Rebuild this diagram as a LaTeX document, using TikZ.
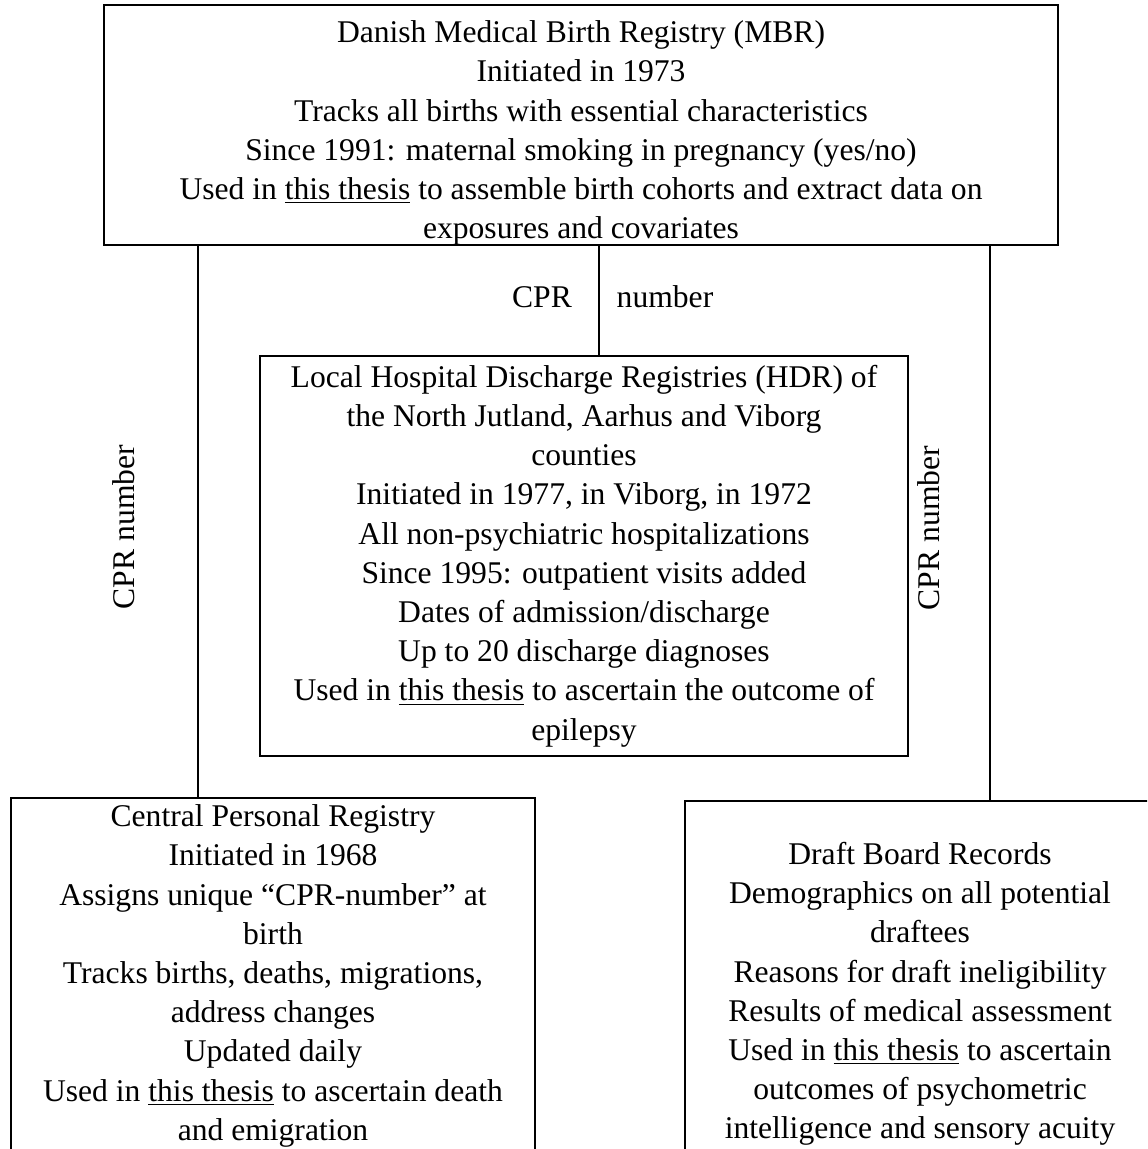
\documentclass[tikz,border=0pt]{standalone}
\usepackage{fontspec}
\setmainfont{Liberation Serif}
\begin{document}
\begin{tikzpicture}[x=0.5pt,y=-0.5pt,
  box/.style={draw, line width=1pt, align=center, inner sep=0pt,
    font=\fontsize{15.8}{19.6}\selectfont},
  lbl/.style={font=\fontsize{15.8}{19.6}\selectfont, inner sep=0pt},
  conn/.style={line width=1pt}]
\useasboundingbox (0,0) rectangle (1147,1149);
\clip (0,0) rectangle (1147,1149);
\node[box, minimum width=477pt, minimum height=119pt] (mbr) at (581,125)
 {\rule{0pt}{19pt}Danish Medical Birth Registry (MBR)\\ Initiated in 1973\\ Tracks all births with essential characteristics\\ Since 1991: maternal smoking in pregnancy (yes/no)\\ Used in \underline{this thesis} to assemble birth cohorts and extract data on\\ exposures and covariates};
\node[box, minimum width=324pt, minimum height=200pt] (hdr) at (584,556)
 {Local Hospital Discharge Registries (HDR) of\\ the North Jutland, Aarhus and Viborg\\ counties\\ Initiated in 1977, in Viborg, in 1972\\ All non-psychiatric hospitalizations\\ Since 1995: outpatient visits added\\ Dates of admission/discharge\\ Up to 20 discharge diagnoses\\ Used in \underline{this thesis} to ascertain the outcome of\\ epilepsy};
\node[box, minimum width=262pt, minimum height=178pt] (cpr) at (273,976)
 {Central Personal Registry\\ Initiated in 1968\\ Assigns unique “CPR-number” at\\ birth\\ Tracks births, deaths, migrations,\\ address changes\\ Updated daily\\ Used in \underline{this thesis} to ascertain death\\ and emigration};
\node[box, minimum width=235pt, minimum height=193pt] (draft) at (920,994)
 {Draft Board Records\\ Demographics on all potential\\ draftees\\ Reasons for draft ineligibility\\ Results of medical assessment\\ Used in \underline{this thesis} to ascertain\\ outcomes of psychometric\\ intelligence and sensory acuity};
\coordinate (xl) at (198,0);
\coordinate (xm) at (599,0);
\coordinate (xr) at (990,0);
\draw[conn] (xl |- mbr.south) -- (xl |- cpr.north);
\draw[conn] (xm |- mbr.south) -- (xm |- hdr.north);
\draw[conn] (xr |- mbr.south) -- (xr |- draft.north);
\node[lbl] (l1) at (542,297) {CPR};
\node[lbl] (l2) at (665,297) {number};
\node[lbl, rotate=90] (l3) at (124,527) {CPR number};
\node[lbl, rotate=90] (l4) at (929,528) {CPR number};
\end{tikzpicture}
\end{document}
